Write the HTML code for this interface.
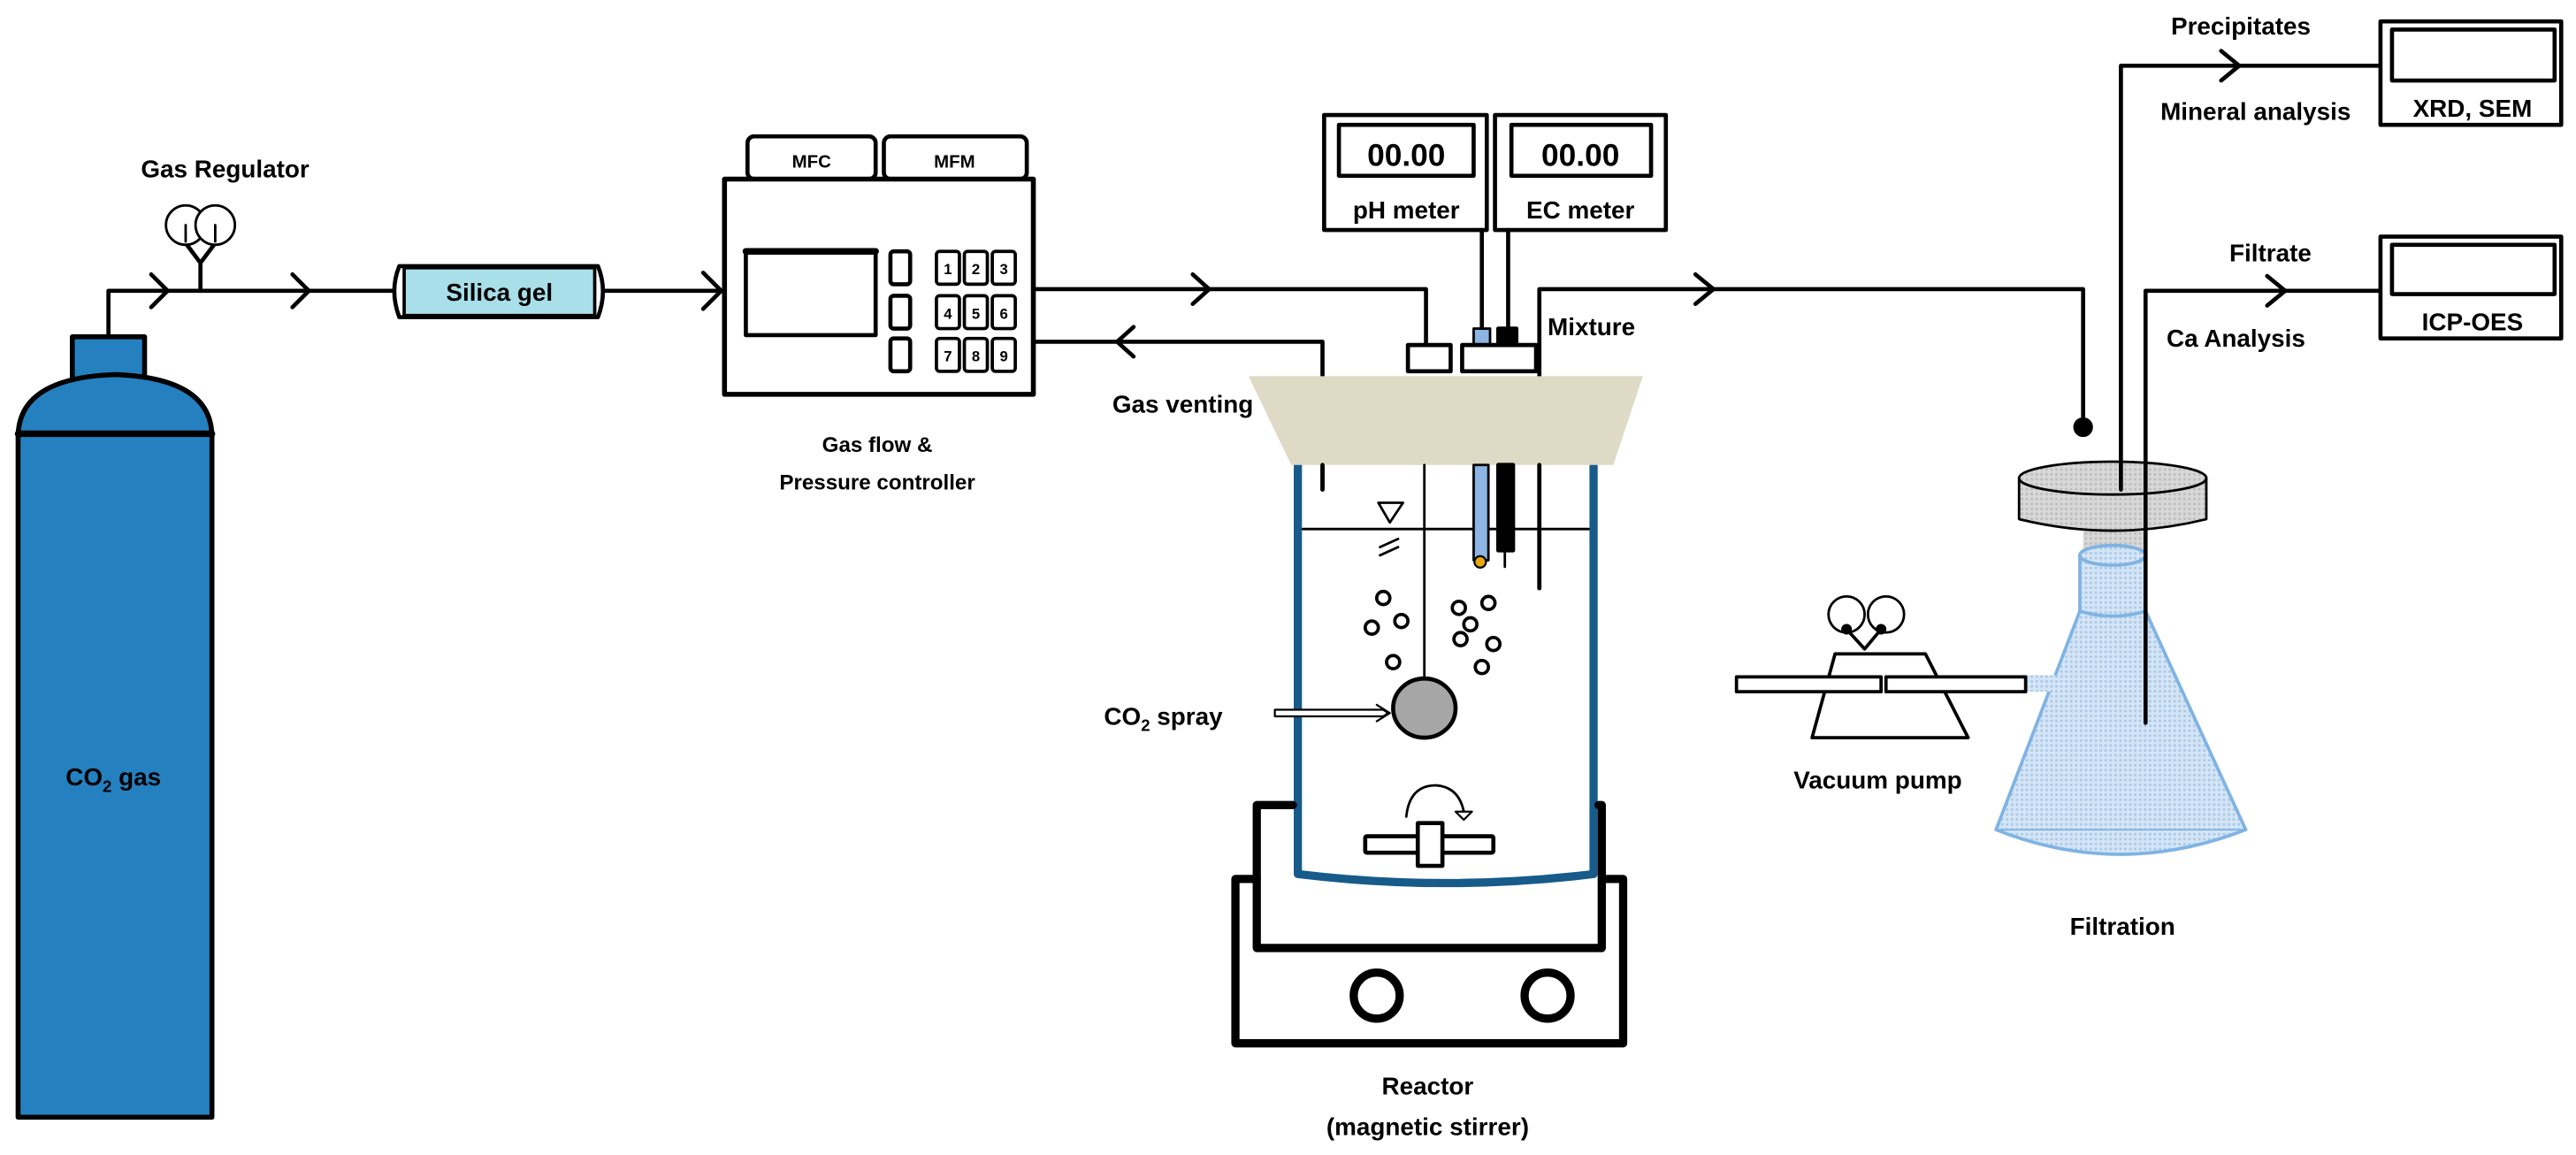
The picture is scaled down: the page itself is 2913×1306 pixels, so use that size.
<!DOCTYPE html>
<html><head><meta charset="utf-8"><style>html,body{margin:0;padding:0;background:#fff}svg{display:block}text{font-family:"Liberation Sans",sans-serif;font-weight:bold;fill:#000}</style></head>
<body>
<svg width="2913" height="1306" viewBox="0 0 1568 703" xmlns="http://www.w3.org/2000/svg">
<defs>
<pattern id="hg" width="3" height="3" patternUnits="userSpaceOnUse"><rect width="3" height="3" fill="#d8d8d8"/><rect width="1.5" height="1.5" fill="#bdbdbd"/></pattern>
<pattern id="hb" width="3" height="3" patternUnits="userSpaceOnUse"><rect width="3" height="3" fill="#d5e5f5"/><rect width="1.5" height="1.5" fill="#a9c9ea"/></pattern>
</defs>
<g fill="none" stroke="#000" stroke-width="2.5" stroke-linecap="round" stroke-linejoin="round">
<!-- cylinder -->
<rect x="44" y="205" width="44" height="26" fill="#2580BF" stroke-width="3"/>
<path d="M11,680 V266 Q11,230 70,228 Q129,230 129,266 V680 Z" fill="#2580BF" stroke-width="3"/>
<line x1="11" y1="264" x2="129" y2="264" stroke-width="4"/>
<!-- pipe -->
<polyline points="66,205 66,177 240,177"/>
<path d="M92,167 L102,177 L92,187"/><path d="M178,167 L188,177 L178,187"/>
<polyline points="122,177 122,160 113,148"/><line x1="122" y1="160" x2="131" y2="148"/>
<circle cx="113" cy="137" r="12" fill="#fff" stroke-width="1.5"/><circle cx="131" cy="137" r="12" fill="#fff" stroke-width="1.5"/>
<line x1="113" y1="137" x2="113" y2="147" stroke-width="1.5"/><line x1="131" y1="137" x2="131" y2="147" stroke-width="1.5"/>
<!-- silica -->
<path d="M243,162 H364 Q370,177 364,193 H243 Q237,177 243,162 Z" fill="#fff"/>
<rect x="246" y="163" width="116" height="29" fill="#A8DFE9" stroke-width="2"/>
<line x1="368" y1="177" x2="440" y2="177"/><path d="M428,166 L439,177 L428,188"/>
<!-- controller -->
<rect x="455" y="83" width="78" height="26" rx="4" fill="#fff"/>
<rect x="538" y="83" width="87" height="26" rx="4" fill="#fff"/>
<rect x="441" y="109" width="188" height="131" fill="#fff" stroke-width="3"/>
<rect x="454" y="153" width="79" height="51" fill="#fff"/><line x1="454" y1="153" x2="533" y2="153" stroke-width="4"/>
<rect x="542" y="153" width="12" height="20" rx="2"/><rect x="542" y="180" width="12" height="20" rx="2"/><rect x="542" y="206" width="12" height="20" rx="2"/>
<g stroke-width="2">
<rect x="570" y="153" width="14" height="20" rx="2"/><rect x="587" y="153" width="14" height="20" rx="2"/><rect x="604" y="153" width="14" height="20" rx="2"/>
<rect x="570" y="180" width="14" height="20" rx="2"/><rect x="587" y="180" width="14" height="20" rx="2"/><rect x="604" y="180" width="14" height="20" rx="2"/>
<rect x="570" y="206" width="14" height="20" rx="2"/><rect x="587" y="206" width="14" height="20" rx="2"/><rect x="604" y="206" width="14" height="20" rx="2"/>
</g>
<!-- gas in line -->
<polyline points="629,176 868,176 868,210"/><path d="M726,167 L736,176 L726,185"/>
<rect x="857" y="210" width="26" height="16" fill="#fff"/>
<polyline points="629,208 805,208 805,298"/><path d="M690,199 L680,208 L690,217"/>
<!-- meters -->
<rect x="806" y="70" width="99" height="70" fill="#fff"/><rect x="815" y="76" width="82" height="31"/>
<rect x="910" y="70" width="104" height="70" fill="#fff"/><rect x="920" y="76" width="85" height="31"/>
<line x1="902" y1="140" x2="902" y2="200"/><line x1="918" y1="140" x2="918" y2="200"/>
<rect x="897" y="200" width="10" height="10" fill="#8DB4E2" stroke-width="1.5"/><rect x="912" y="200" width="11" height="10" fill="#000"/>
<rect x="890" y="210" width="45" height="16" fill="#fff"/>
<!-- mixture line -->
<polyline points="937,358 937,176 1268,176 1268,258"/><path d="M1032,167 L1043,176 L1032,185"/>
<circle cx="1268" cy="260" r="6" fill="#000" stroke="none"/>
<!-- reactor vessel -->
<path d="M790,262 V532 Q880,543 970,532 V262" stroke="#165B8A" stroke-width="5"/>
<path d="M760,229 H1000 L982,283 H786 Z" fill="#DFDAC5" stroke="none"/>
<line x1="805" y1="283" x2="805" y2="298"/><line x1="937" y1="283" x2="937" y2="358" stroke-width="2.5"/>
<line x1="793" y1="322" x2="967" y2="322" stroke-width="1.5"/>
<path d="M839,306 H854 L846,318 Z" fill="#fff" stroke-width="1.5"/>
<line x1="840" y1="333" x2="851" y2="328" stroke-width="1.5"/><line x1="840" y1="338" x2="851" y2="333" stroke-width="1.5"/>
<line x1="867" y1="283" x2="867" y2="412" stroke-width="1.5"/>
<rect x="897" y="283" width="9" height="58" fill="#8DB4E2" stroke-width="1.5"/>
<circle cx="901" cy="342" r="3.5" fill="#E8A60F" stroke-width="1.2"/>
<rect x="912" y="283" width="9" height="52" fill="#000"/><line x1="916" y1="335" x2="916" y2="345" stroke-width="1.5"/>
<ellipse cx="867" cy="431" rx="19" ry="18" fill="#A6A6A6"/>
<g stroke-width="2">
<circle cx="842" cy="364" r="4"/><circle cx="853" cy="378" r="4"/><circle cx="835" cy="382" r="4"/>
<circle cx="848" cy="403" r="4"/><circle cx="867" cy="370" r="0"/>
<circle cx="888" cy="370" r="4"/><circle cx="906" cy="367" r="4"/><circle cx="895" cy="380" r="4"/><circle cx="909" cy="392" r="4"/>
<circle cx="889" cy="389" r="4"/><circle cx="902" cy="406" r="4"/>
</g>
<path d="M776,432 H842 L845,434 L842,436 H776 Z" fill="#fff" stroke-width="1.2"/>
<path d="M838,429 L846,434 L838,439" stroke-width="1.2"/>
<!-- stirrer -->
<path d="M856,497 Q858,478 874,478 Q888,479 891,494" stroke-width="1.5"/>
<path d="M886,494 H896 L891,499 Z" fill="#fff" stroke-width="1.2"/>
<rect x="831" y="509" width="78" height="10" rx="1" fill="#fff"/><rect x="863" y="501" width="15" height="26" fill="#fff"/>
<!-- hot plate -->
<path d="M787,490 H765 V577 H975 V490 H973" stroke-width="5"/>
<path d="M765,535 H752 V635 H988 V535 H975" stroke-width="5"/>
<circle cx="838" cy="606" r="14" stroke-width="5"/><circle cx="942" cy="606" r="14" stroke-width="5"/>
<!-- filtration -->
<rect x="1268" y="322" width="38" height="20" fill="url(#hg)" stroke="none"/>
<path d="M1229,291 V316 Q1286,330 1343,316 V291" fill="url(#hg)" stroke-width="1.5"/>
<ellipse cx="1286" cy="291" rx="57" ry="10" fill="url(#hg)" stroke-width="1.5"/>
<path d="M1266,372 L1215,505 Q1290,535 1367,505 L1306,372 Z" fill="url(#hb)" stroke="#7FB3E3" stroke-width="2"/>
<path d="M1266,338 V372 Q1286,378 1306,372 V338" fill="url(#hb)" stroke="#7FB3E3" stroke-width="2"/>
<ellipse cx="1286" cy="338" rx="20" ry="6" fill="url(#hb)" stroke="#7FB3E3" stroke-width="2"/>
<line x1="1215" y1="505" x2="1367" y2="505" stroke="#7FB3E3" stroke-width="1"/>
<rect x="1233" y="411" width="27" height="10" fill="url(#hb)" stroke="none"/>
<polyline points="1291,298 1291,40 1448,40" stroke-width="2.5"/>
<path d="M1352,31 L1363,40 L1352,49"/>
<polyline points="1306,440 1306,177 1448,177"/>
<path d="M1380,168 L1391,177 L1380,186"/>
<!-- analysis boxes -->
<rect x="1449" y="13" width="110" height="63" fill="#fff"/><rect x="1456" y="18" width="99" height="31"/>
<rect x="1449" y="144" width="110" height="62" fill="#fff"/><rect x="1456" y="149" width="99" height="30"/>
<!-- vacuum pump -->
<path d="M1103,449 L1117,398 H1172 L1198,449 Z" fill="#fff" stroke-width="2"/>
<rect x="1057" y="412" width="88" height="9" fill="#fff" stroke-width="2"/>
<rect x="1148" y="412" width="85" height="9" fill="#fff" stroke-width="2"/>
<polyline points="1124,383 1135,395 1145,383" stroke-width="2"/>
<circle cx="1124" cy="374" r="11" fill="#fff" stroke-width="1.5"/><circle cx="1148" cy="374" r="11" fill="#fff" stroke-width="1.5"/>
<circle cx="1124" cy="383" r="2" fill="#000"/><circle cx="1145" cy="383" r="2" fill="#000"/>
</g>
<!-- text -->
<g font-size="17">
<text x="137" y="108" text-anchor="middle" font-size="15">Gas Regulator</text>
<text x="304" y="183" text-anchor="middle" font-size="15">Silica gel</text>
<text x="494" y="102" text-anchor="middle" font-size="11">MFC</text>
<text x="581" y="102" text-anchor="middle" font-size="11">MFM</text>
<g font-size="9" text-anchor="middle">
<text x="577" y="167">1</text><text x="594" y="167">2</text><text x="611" y="167">3</text>
<text x="577" y="194">4</text><text x="594" y="194">5</text><text x="611" y="194">6</text>
<text x="577" y="220">7</text><text x="594" y="220">8</text><text x="611" y="220">9</text>
</g>
<text x="534" y="275" text-anchor="middle" font-size="13">Gas flow &amp;</text>
<text x="534" y="298" text-anchor="middle" font-size="13">Pressure controller</text>
<text x="720" y="251" text-anchor="middle" font-size="15">Gas venting</text>
<text x="856" y="101" text-anchor="middle" font-size="19">00.00</text>
<text x="962" y="101" text-anchor="middle" font-size="19">00.00</text>
<text x="856" y="133" text-anchor="middle" font-size="15">pH meter</text>
<text x="962" y="133" text-anchor="middle" font-size="15">EC meter</text>
<text x="942" y="204" font-size="15">Mixture</text>
<text x="672" y="441" font-size="15">CO<tspan font-size="10" dy="4">2</tspan><tspan dy="-4"> spray</tspan></text>
<text x="69" y="478" text-anchor="middle" font-size="15">CO<tspan font-size="10" dy="4">2</tspan><tspan dy="-4"> gas</tspan></text>
<text x="869" y="666" text-anchor="middle" font-size="15">Reactor</text>
<text x="869" y="691" text-anchor="middle" font-size="15">(magnetic stirrer)</text>
<text x="1143" y="480" text-anchor="middle" font-size="15">Vacuum pump</text>
<text x="1292" y="569" text-anchor="middle" font-size="15">Filtration</text>
<text x="1364" y="21" text-anchor="middle" font-size="15">Precipitates</text>
<text x="1373" y="73" text-anchor="middle" font-size="15">Mineral analysis</text>
<text x="1505" y="71" text-anchor="middle" font-size="15">XRD, SEM</text>
<text x="1382" y="159" text-anchor="middle" font-size="15">Filtrate</text>
<text x="1361" y="211" text-anchor="middle" font-size="15">Ca Analysis</text>
<text x="1505" y="201" text-anchor="middle" font-size="15">ICP-OES</text>
</g>
</svg>
</body></html>
